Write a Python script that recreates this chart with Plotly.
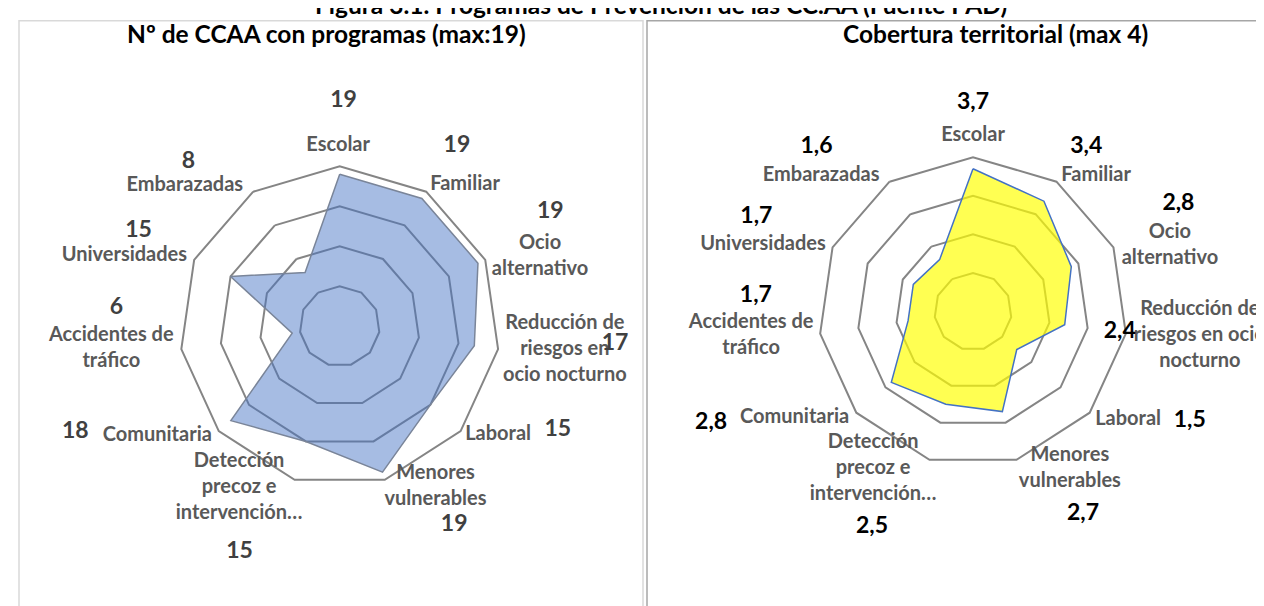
import plotly.graph_objects as go

# ---------------- data ----------------
categories = [
    "Escolar", "Familiar", "Ocio alternativo",
    "Reducción de riesgos en ocio nocturno", "Laboral",
    "Menores vulnerables", "Detección precoz e intervención…",
    "Comunitaria", "Accidentes de tráfico", "Universidades", "Embarazadas",
]
label_text_left = [
    "Escolar", "Familiar", "Ocio<br>alternativo",
    "Reducción de<br>riesgos en<br>ocio nocturno", "Laboral",
    "Menores<br>vulnerables", "Detección<br>precoz e<br>intervención…",
    "Comunitaria", "Accidentes de<br>tráfico", "Universidades", "Embarazadas",
]
label_text_right = [
    "Escolar", "Familiar", "Ocio<br>alternativo",
    "Reducción de<br>riesgos en ocio<br>nocturno", "Laboral",
    "Menores<br>vulnerables", "Detección<br>precoz e<br>intervención…",
    "Comunitaria", "Accidentes de<br>tráfico", "Universidades", "Embarazadas",
]
ccaa_programs = [19, 19, 19, 17, 15, 19, 15, 18, 6, 15, 8]
coverage = [3.7, 3.4, 2.8, 2.4, 1.5, 2.7, 2.5, 2.8, 1.7, 1.7, 1.6]

main_title = "Figura 3.1. Programas de Prevención de las CC.AA (Fuente PAD)"
left_title = "Nº de CCAA con programas (max:19)"
right_title = "Cobertura territorial (max 4)"

# ---------------- style: label placement (radius in axis units, angle in degrees) ----------------
left_value_r = [28.1, 26.9, 29.95, 34.5, 30.2, 28.7, 30.9, 35.6, 28.0, 27.8, 27.9]
left_value_theta = [1, 33.0, 61.5, 93.8, 115.5, 150.1, 203.9, 248.2, 274.7, 295.3, 317.3]
left_cat_r = [22.5, 23.6, 26.5, 28.3, 24.0, 23.4, 23.8, 26.6, 28.7, 28.3, 26.1]
left_cat_theta = [359.5, 41.6, 70.9, 96.0, 124.4, 149.2, 211.9, 239.0, 264.2, 288.0, 312.1]

right_value_r = [5.40, 5.17, 6.0, 3.84, 6.29, 5.97, 6.17, 7.37, 5.64, 6.12, 5.88]
right_value_theta = [0, 34.6, 62.5, 98.0, 116.8, 151.5, 205.1, 247.0, 274.0, 293.5, 316.4]
right_cat_r = [4.54, 4.74, 5.38, 5.91, 4.90, 4.79, 4.83, 5.38, 5.78, 5.71, 5.27]
right_cat_theta = [0, 42.3, 71.5, 96.1, 124.9, 148.4, 212.4, 239.2, 263.8, 287.7, 311.7]

FONT = "Lato"
W, H = 1264, 606


def comma(v):
    return f"{v:.1f}".replace(".", ",")


fig = go.Figure()

# left radar
fig.add_trace(go.Scatterpolar(
    r=ccaa_programs + ccaa_programs[:1],
    theta=categories + categories[:1],
    mode="lines", fill="toself",
    fillcolor="rgba(68,114,196,0.48)",
    line=dict(color="#7a8599", width=1.5),
    subplot="polar", hoverinfo="skip", showlegend=False,
))
# right radar
fig.add_trace(go.Scatterpolar(
    r=coverage + coverage[:1],
    theta=categories + categories[:1],
    mode="lines", fill="toself",
    fillcolor="rgba(255,255,0,0.68)",
    line=dict(color="#4472C4", width=1.5),
    subplot="polar2", hoverinfo="skip", showlegend=False,
))

cat_font = dict(family=FONT, size=20, color="#595959", weight="bold")

# category labels
fig.add_trace(go.Scatterpolar(
    r=left_cat_r, theta=left_cat_theta, mode="text",
    text=label_text_left, textfont=cat_font,
    textposition="middle center", cliponaxis=False,
    subplot="polar3", hoverinfo="skip", showlegend=False,
))
fig.add_trace(go.Scatterpolar(
    r=right_cat_r, theta=right_cat_theta, mode="text",
    text=label_text_right, textfont=cat_font,
    textposition="middle center", cliponaxis=False,
    subplot="polar4", hoverinfo="skip", showlegend=False,
))
# value labels
fig.add_trace(go.Scatterpolar(
    r=left_value_r, theta=left_value_theta, mode="text",
    text=[str(v) for v in ccaa_programs],
    textfont=dict(family=FONT, size=23, color="#404040", weight="bold"),
    textposition="middle center", cliponaxis=False,
    subplot="polar3", hoverinfo="skip", showlegend=False,
))
fig.add_trace(go.Scatterpolar(
    r=right_value_r, theta=right_value_theta, mode="text",
    text=[comma(v) for v in coverage],
    textfont=dict(family=FONT, size=23, color="#000000", weight="bold"),
    textposition="middle center", cliponaxis=False,
    subplot="polar4", hoverinfo="skip", showlegend=False,
))


def dom(cx, cy, rad):
    return dict(x=[(cx - rad) / W, (cx + rad) / W],
                y=[(H - cy - rad) / H, (H - cy + rad) / H])


L_CX, L_CY, L_PX = 331.7, 318.3, 8.0      # centre and pixels per unit
R_CX, R_CY, R_PX = 965.0, 303.6, 38.6
L_MAX, R_MAX = 20, 4
L_LAB_MAX, R_LAB_MAX = 35.9, 7.5

grid_col = "#858585"


def main_polar(domain, rmax):
    return dict(
        domain=domain, bgcolor="rgba(0,0,0,0)", gridshape="linear",
        radialaxis=dict(range=[0, rmax], dtick=rmax / 4, showticklabels=False,
                        ticks="", showline=False, gridcolor=grid_col, gridwidth=2),
        angularaxis=dict(rotation=90, direction="clockwise", showgrid=False,
                         ticks="", showline=True, linecolor=grid_col, linewidth=2,
                         showticklabels=False),
    )


def label_polar(domain, rmax):
    return dict(
        domain=domain, bgcolor="rgba(0,0,0,0)",
        radialaxis=dict(range=[0, rmax], visible=False),
        angularaxis=dict(type="linear", thetaunit="degrees", rotation=90,
                         direction="clockwise", visible=False),
    )


fig.update_layout(
    width=W, height=H,
    margin=dict(l=0, r=0, t=0, b=0),
    paper_bgcolor="white", plot_bgcolor="white",
    polar=main_polar(dom(L_CX, L_CY, L_PX * L_MAX), L_MAX),
    polar2=main_polar(dom(R_CX, R_CY, R_PX * R_MAX), R_MAX),
    polar3=label_polar(dom(L_CX, L_CY, L_PX * L_LAB_MAX), L_LAB_MAX),
    polar4=label_polar(dom(R_CX, R_CY, R_PX * R_LAB_MAX), R_LAB_MAX),
    shapes=[
        dict(type="rect", xref="paper", yref="paper",
             x0=11 / W, x1=635 / W, y0=-0.05, y1=1 - 12.7 / H,
             line=dict(color="#d9d9d9", width=1.5), layer="below"),
        dict(type="rect", xref="paper", yref="paper",
             x0=639 / W, x1=1.05, y0=-0.05, y1=1 - 12.7 / H,
             line=dict(color="#a6a6a6", width=1.5), layer="below"),
    ],
    annotations=[
        dict(text=main_title, xref="paper", yref="paper", x=653 / W, y=1 + 3 / H,
             xanchor="center", yanchor="middle", showarrow=False,
             font=dict(family=FONT, size=24.5, color="#000000", weight="bold")),
        dict(text=left_title, xref="paper", yref="paper", x=318 / W, y=1 - 25.5 / H,
             xanchor="center", yanchor="middle", showarrow=False,
             font=dict(family=FONT, size=24.5, color="#000000", weight="bold")),
        dict(text=right_title, xref="paper", yref="paper", x=987 / W, y=1 - 25.5 / H,
             xanchor="center", yanchor="middle", showarrow=False,
             font=dict(family=FONT, size=24.5, color="#000000", weight="bold")),
    ],
)

fig.write_html("out.html")
